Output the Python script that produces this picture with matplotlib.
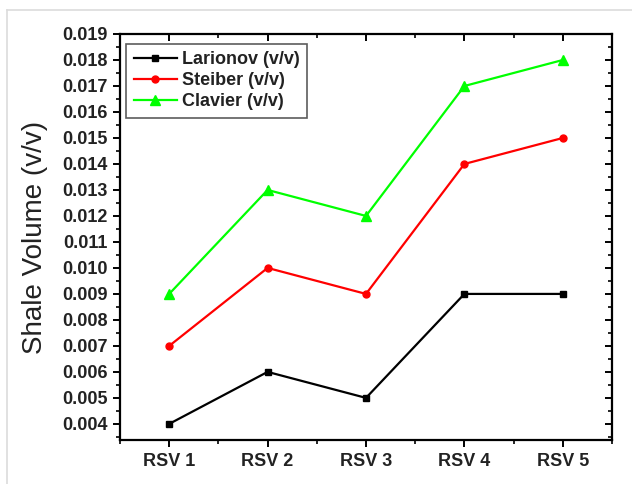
import matplotlib
matplotlib.use("Agg")
import matplotlib.pyplot as plt
from matplotlib.ticker import MultipleLocator, FormatStrFormatter
from matplotlib.lines import Line2D

categories = ["RSV 1", "RSV 2", "RSV 3", "RSV 4", "RSV 5"]
larionov = [0.004, 0.006, 0.005, 0.009, 0.009]
steiber = [0.007, 0.010, 0.009, 0.014, 0.015]
clavier = [0.009, 0.013, 0.012, 0.017, 0.018]
series_names = ["Larionov (v/v)", "Steiber (v/v)", "Clavier (v/v)"]

plt.rcParams['font.family'] = ['Liberation Sans', 'DejaVu Sans']

fig = plt.figure(figsize=(6.32, 4.84), dpi=100)
W, H = 632, 484
# light frame lines of the screenshot
fig.add_artist(Line2D([7/W, 7/W], [0, 1 - 10/H], color='#dcdcdc', lw=1.2, transform=fig.transFigure))
fig.add_artist(Line2D([7/W, 1], [1 - 10/H, 1 - 10/H], color='#dcdcdc', lw=1.2, transform=fig.transFigure))

ax = fig.add_axes([120/W, 1 - 440/H, (612 - 120)/W, (440 - 34)/H])
x = list(range(1, len(categories) + 1))

ax.plot(x, larionov, color='black', lw=1.6, marker='s', ms=5, label=series_names[0])
ax.plot(x, steiber, color='#ff0000', lw=1.6, marker='o', ms=5, label=series_names[1])
ax.plot(x, clavier, color='#00ff00', lw=1.6, marker='^', ms=7, label=series_names[2])

ax.set_xlim(0.5, 5.5)
ax.set_ylim(0.00338, 0.019)
ax.set_xticks(x)
ax.set_xticklabels(categories)
ax.xaxis.set_minor_locator(MultipleLocator(0.5))
ax.yaxis.set_major_locator(MultipleLocator(0.001))
ax.yaxis.set_minor_locator(MultipleLocator(0.0005))
ax.yaxis.set_major_formatter(FormatStrFormatter('%.3f'))

for s in ax.spines.values():
    s.set_linewidth(1.6)

ax.tick_params(axis='both', which='major', direction='out', length=5, width=1.4,
               labelsize=13, pad=4)
ax.tick_params(axis='both', which='minor', direction='out', length=3, width=1.2)
ax.tick_params(axis='both', which='both', top=True, right=True)
ax.tick_params(axis='x', which='both', labeltop=False)
ax.tick_params(axis='y', which='both', labelright=False)

for lab in ax.get_xticklabels() + ax.get_yticklabels():
    lab.set_fontweight('bold')
    lab.set_color('#222222')

# make top/right ticks point inward
for t in ax.xaxis.get_major_ticks() + ax.xaxis.get_minor_ticks():
    t.tick2line.set_marker(3)  # TICKDOWN
for t in ax.yaxis.get_major_ticks() + ax.yaxis.get_minor_ticks():
    t.tick2line.set_marker(0)  # TICKLEFT

ax.set_ylabel("Shale Volume (v/v)", fontsize=20, color='#222222', labelpad=10)

leg = ax.legend(loc='upper left', bbox_to_anchor=(0.013, 0.975), fontsize=13,
                frameon=True, fancybox=False, edgecolor='#333333',
                handlelength=2.4, handletextpad=0.3, labelspacing=0.22,
                borderpad=0.4, borderaxespad=0.0)
leg.get_frame().set_linewidth(1.2)
for t in leg.get_texts():
    t.set_fontweight('bold')
    t.set_color('#222222')

fig.savefig("out.png", dpi=100)
